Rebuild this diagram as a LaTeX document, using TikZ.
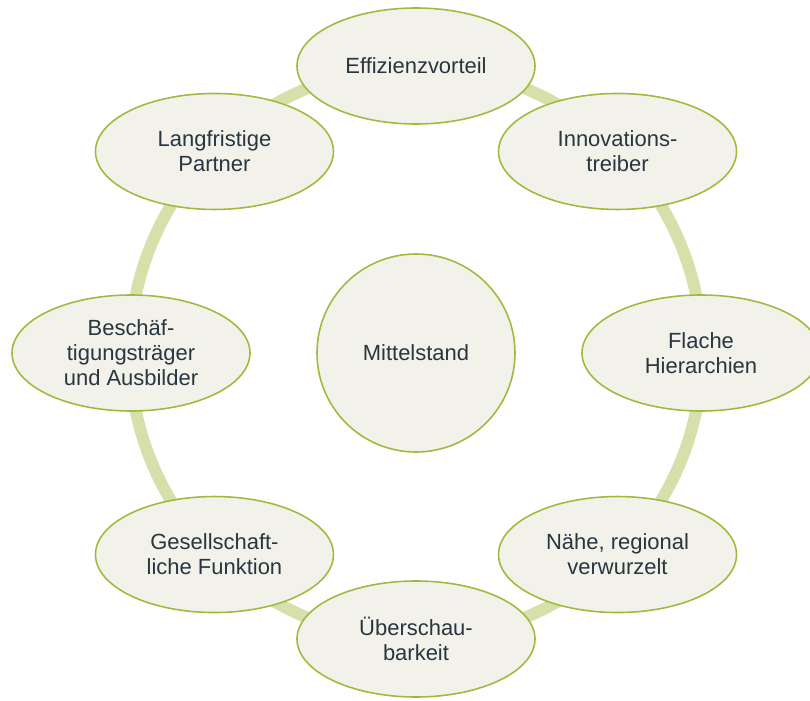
\documentclass[tikz,border=0pt]{standalone}
\usepackage{fontspec}
\setmainfont{Liberation Sans}
\usetikzlibrary{shapes.geometric}

\definecolor{ringgreen}{RGB}{213,224,170}
\definecolor{rimgreen}{RGB}{160,186,62}
\definecolor{paper}{RGB}{242,242,234}
\definecolor{slate}{RGB}{40,54,64}

\begin{document}
\begin{tikzpicture}[
    font=\fontsize{12.5}{14.2}\selectfont,
    ring/.style={
        draw=ringgreen,
        line width=0.24cm
    },
    core/.style={
        draw=rimgreen,
        fill=paper,
        circle,
        minimum size=3.96cm,
        inner sep=0pt,
        line width=0.9pt,
        text=slate
    },
    trait/.style={
        draw=rimgreen,
        fill=paper,
        ellipse,
        minimum width=4.76cm,
        minimum height=2.32cm,
        inner sep=0pt,
        align=center,
        line width=0.9pt,
        text=slate
    }
]

\useasboundingbox (-8.32,-6.94) rectangle (7.88,7.06);
\clip (-8.32,-6.94) rectangle (7.88,7.06);

% ring behind the traits
\draw[ring] (0,0) circle (5.72cm);

\node[core] (mittelstand) at (0,0)
    {Mittelstand};

\node[trait] (effizienz) at (90:5.74)
    {Effizienzvorteil};

\node[trait] (innovation) at (45:5.70)
    {Innovations-\\treiber};

\node[trait] (hierarchie) at (0:5.70)
    {Flache\\Hierarchien};

\node[trait] (naehe) at (-45:5.70)
    {Nähe, regional\\verwurzelt};

\node[trait] (ueberschau) at (-90:5.72)
    {Überschau-\\barkeit};

\node[trait] (gesellschaft) at (-135:5.70)
    {Gesellschaft-\\liche Funktion};

\node[trait] (beschaeftigung) at (180:5.70)
    {Beschäf-\\tigungsträger\\und Ausbilder};

\node[trait] (partner) at (135:5.70)
    {Langfristige\\Partner};

\end{tikzpicture}
\end{document}
